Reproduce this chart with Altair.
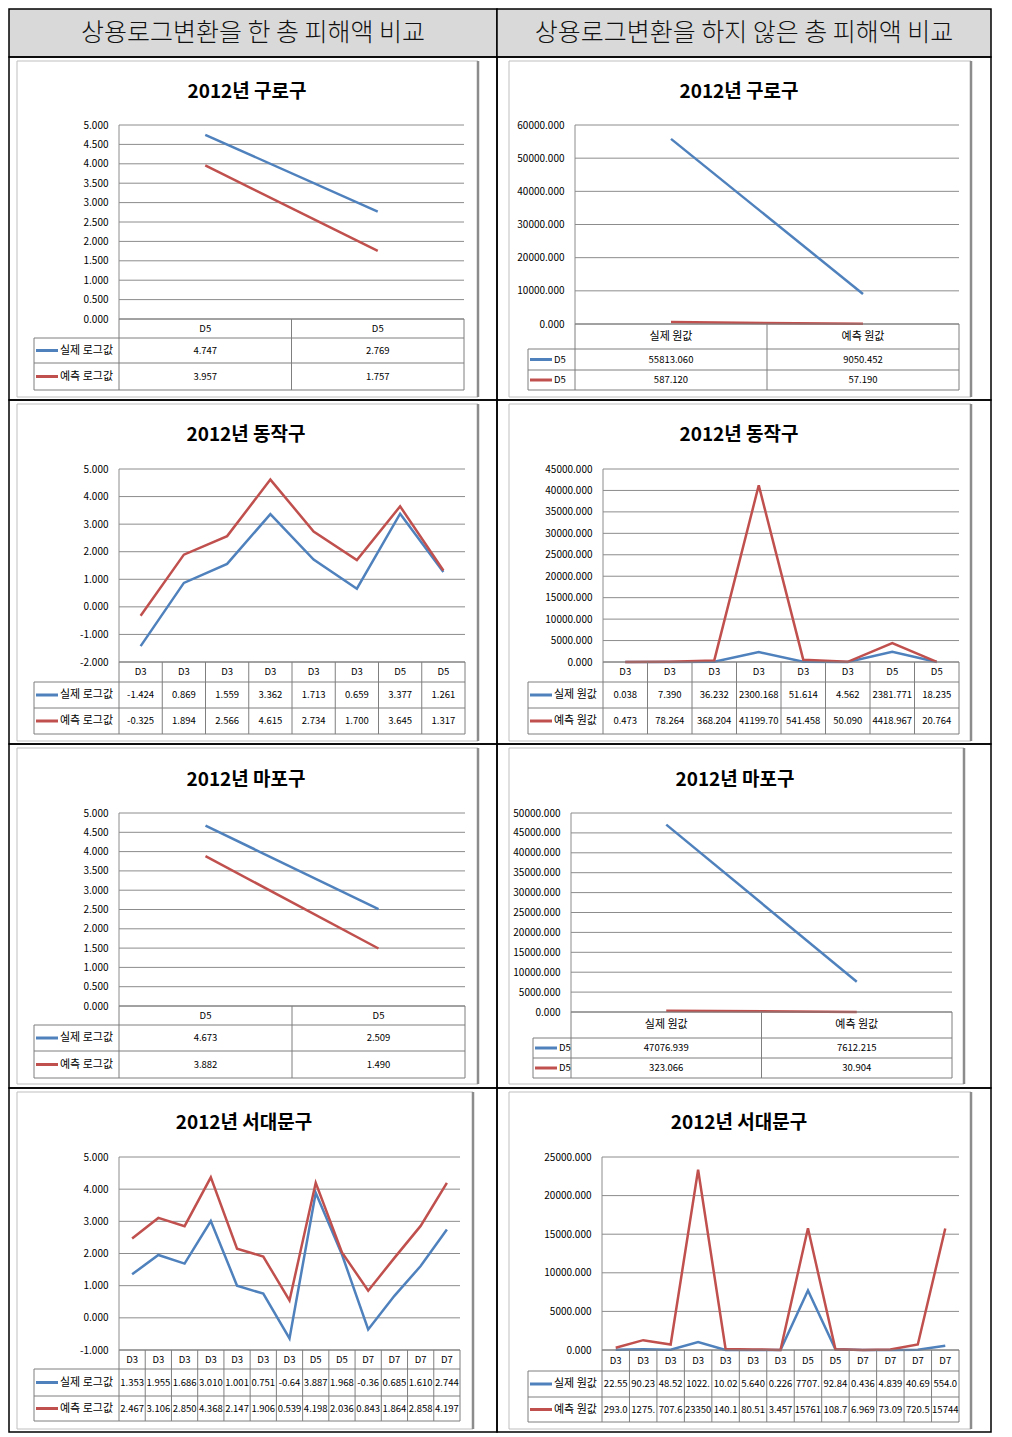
import altair as alt
import numpy as np
import pandas as pd

FONT = "Noto Sans CJK KR"
BLUE = "#4F81BD"
RED = "#C0504D"
GRID = "#8C8C8C"
TBL = "#7F7F7F"

# ---------------- data ----------------
header_texts = ["상용로그변환을 한 총 피해액 비교", "상용로그변환을 하지 않은 총 피해액 비교"]
titles = ["2012년 구로구", "2012년 동작구", "2012년 마포구", "2012년 서대문구"]

log_legend = ["실제 로그값", "예측 로그값"]
raw_legend = ["실제 원값", "예측 원값"]

guro_log_cats = ["D5", "D5"]
guro_log_actual = [4.747, 2.769]
guro_log_pred = [3.957, 1.757]
guro_raw_cats = ["실제 원값", "예측 원값"]
guro_raw_series = ["D5", "D5"]
guro_raw_row1 = [55813.060, 9050.452]
guro_raw_row2 = [587.120, 57.190]

dongjak_cats = ["D3", "D3", "D3", "D3", "D3", "D3", "D5", "D5"]
dongjak_log_actual = [-1.424, 0.869, 1.559, 3.362, 1.713, 0.659, 3.377, 1.261]
dongjak_log_pred = [-0.325, 1.894, 2.566, 4.615, 2.734, 1.700, 3.645, 1.317]
dongjak_raw_actual = [0.038, 7.390, 36.232, 2300.168, 51.614, 4.562, 2381.771, 18.235]
dongjak_raw_pred = [0.473, 78.264, 368.204, 41199.703, 541.458, 50.090, 4418.967, 20.764]

mapo_log_cats = ["D5", "D5"]
mapo_log_actual = [4.673, 2.509]
mapo_log_pred = [3.882, 1.490]
mapo_raw_cats = ["실제 원값", "예측 원값"]
mapo_raw_series = ["D5", "D5"]
mapo_raw_row1 = [47076.939, 7612.215]
mapo_raw_row2 = [323.066, 30.904]

sdm_cats = ["D3", "D3", "D3", "D3", "D3", "D3", "D3", "D5", "D5", "D7", "D7", "D7", "D7"]
sdm_log_actual = [1.353, 1.955, 1.686, 3.010, 1.001, 0.751, -0.640, 3.887, 1.968, -0.360, 0.685, 1.610, 2.744]
sdm_log_pred = [2.467, 3.106, 2.850, 4.368, 2.147, 1.906, 0.539, 4.198, 2.036, 0.843, 1.864, 2.858, 4.197]
sdm_raw_actual = [22.553, 90.231, 48.525, 1022.330, 10.024, 5.640, 0.226, 7707.470, 92.842, 0.436, 4.839, 40.693, 554.048]
sdm_raw_pred = [293.034, 1275.420, 707.624, 23350.100, 140.148, 80.513, 3.457, 15761.200, 108.710, 6.969, 73.091, 720.541, 15744.400]


def fmt(v, trunc):
    s = f"{v:.3f}"
    return s[:trunc] if trunc else s


CELL_VIEW = alt.ViewBackground(stroke="black", strokeWidth=1.5)


def panel(W, H, ox, oy, frame, title_xy, plot, rows, LL, title, cats, vals1, vals2,
          leg_labels, ydom, ystep, trunc=None, cat_size=9.5, leg_size=11):
    FL, FT, FR, FB = frame[0] - ox, frame[1] - oy, frame[2] - ox, frame[3] - oy
    PL, PR, PT, PB = plot[0] - ox, plot[1] - ox, plot[2] - oy, plot[3] - oy
    R = [r - oy for r in rows]
    LLr = LL - ox
    n = len(cats)

    fx = alt.Scale(domain=[0, 1], range=[FL, FR])
    fy = alt.Scale(domain=[0, 1], range=[FT, FB])
    lx = alt.Scale(domain=[0, n], range=[PL, PR])
    ly = alt.Scale(domain=list(ydom), range=[PB, PT], zero=False, nice=False)
    ty = alt.Scale(domain=[0, 1, 2, 3], range=R, zero=False, nice=False)
    lw = PL - LLr
    gx = alt.Scale(domain=[0, lw], range=[LLr, PL])

    # chart frame
    fdf = pd.DataFrame({"a": [0], "b": [1]})
    frame_rect = alt.Chart(fdf).mark_rect(fillOpacity=0, stroke="#BFBFBF", strokeWidth=1).encode(
        x=alt.X("a:Q", scale=fx, axis=None), x2="b:Q",
        y=alt.Y("a:Q", scale=fy, axis=None), y2="b:Q")
    shadow = alt.Chart(fdf).mark_rule(color="#8C8C8C", strokeWidth=2.5).encode(
        x=alt.X("b:Q", scale=fx, axis=None),
        y=alt.Y("a:Q", scale=fy, axis=None), y2="b:Q")

    # title
    tdf = pd.DataFrame({"t": [title],
                        "x": [(title_xy[0] - ox - FL) / (FR - FL)],
                        "y": [(title_xy[1] - oy - FT) / (FB - FT)]})
    ttl = alt.Chart(tdf).mark_text(font=FONT, fontSize=19, fontWeight="bold",
                                   baseline="middle", align="center", color="black").encode(
        x=alt.X("x:Q", scale=fx, axis=None), y=alt.Y("y:Q", scale=fy, axis=None), text="t:N")

    # gridlines + y axis line
    ticks = [float(t) for t in np.round(np.arange(ydom[0], ydom[1] + ystep / 2, ystep), 6)]
    gdf = pd.DataFrame({"y": ticks, "x0": 0, "x1": n})
    grid = alt.Chart(gdf).mark_rule(color=GRID, strokeWidth=1).encode(
        x=alt.X("x0:Q", scale=lx, axis=None), x2="x1:Q",
        y=alt.Y("y:Q", scale=ly, axis=None))
    ydl = alt.Chart(pd.DataFrame({"x": [0], "y0": [ydom[0]], "y1": [ydom[1]]})).mark_rule(
        color=GRID, strokeWidth=1).encode(
        x=alt.X("x:Q", scale=lx, axis=None), y=alt.Y("y0:Q", scale=ly, axis=None), y2="y1:Q")

    # lines
    ldf = pd.DataFrame({"x": [i + 0.5 for i in range(n)] * 2,
                        "v": list(vals1) + list(vals2),
                        "s": ["a"] * n + ["b"] * n})
    lines = alt.Chart(ldf).mark_line(strokeWidth=2.5).encode(
        x=alt.X("x:Q", scale=lx, axis=None),
        y=alt.Y("v:Q", scale=ly, axis=alt.Axis(
            values=ticks, orient="left", offset=-PL, grid=False, domain=False, ticks=False,
            labelExpr="replace(format(datum.value, '.3f'), '\u2212', '-')",
            labelOverlap=False, zindex=2,
            labelFont=FONT, labelFontSize=10, labelColor="black", labelPadding=11, title=None)),
        color=alt.Color("s:N", scale=alt.Scale(domain=["a", "b"], range=[BLUE, RED]), legend=None))

    # data table
    vr = pd.DataFrame({"x": list(range(n + 1)), "y0": 0, "y1": 3})
    vrules = alt.Chart(vr).mark_rule(color=TBL, strokeWidth=1).encode(
        x=alt.X("x:Q", scale=lx, axis=None), y=alt.Y("y0:Q", scale=ty, axis=None), y2="y1:Q")
    hr = pd.DataFrame({"y": [0, 1, 2, 3], "x0": 0, "x1": n})
    hrules = alt.Chart(hr).mark_rule(color=TBL, strokeWidth=1).encode(
        x=alt.X("x0:Q", scale=lx, axis=None), x2="x1:Q", y=alt.Y("y:Q", scale=ty, axis=None))
    cells = []
    for i in range(n):
        cells.append({"x": i + 0.5, "y": 0.5, "t": cats[i], "fs": cat_size})
        cells.append({"x": i + 0.5, "y": 1.5, "t": fmt(vals1[i], trunc), "fs": 9.5})
        cells.append({"x": i + 0.5, "y": 2.5, "t": fmt(vals2[i], trunc), "fs": 9.5})
    cdf = pd.DataFrame(cells)
    ctext = alt.Chart(cdf).mark_text(font=FONT, baseline="middle", align="center", color="black").encode(
        x=alt.X("x:Q", scale=lx, axis=None), y=alt.Y("y:Q", scale=ty, axis=None),
        text="t:N", size=alt.Size("fs:Q", scale=None))

    # legend column
    lgv = alt.Chart(pd.DataFrame({"x": [0], "y0": [1], "y1": [3]})).mark_rule(color=TBL).encode(
        x=alt.X("x:Q", scale=gx, axis=None), y=alt.Y("y0:Q", scale=ty, axis=None), y2="y1:Q")
    lgh = alt.Chart(pd.DataFrame({"y": [1, 2, 3], "x0": 0, "x1": lw})).mark_rule(color=TBL).encode(
        x=alt.X("x0:Q", scale=gx, axis=None), x2="x1:Q", y=alt.Y("y:Q", scale=ty, axis=None))
    kdf = pd.DataFrame({"s": ["a", "b"], "y": [1.5, 2.5], "x0": 2, "x1": 24, "xt": 26,
                        "t": leg_labels})
    keys = alt.Chart(kdf).mark_rule(strokeWidth=3).encode(
        x=alt.X("x0:Q", scale=gx, axis=None), x2="x1:Q", y=alt.Y("y:Q", scale=ty, axis=None),
        color=alt.Color("s:N", scale=alt.Scale(domain=["a", "b"], range=[BLUE, RED]), legend=None))
    klab = alt.Chart(kdf).mark_text(font=FONT, fontSize=leg_size, align="left", baseline="middle",
                                    color="black").encode(
        x=alt.X("xt:Q", scale=gx, axis=None), y=alt.Y("y:Q", scale=ty, axis=None), text="t:N")

    return alt.layer(frame_rect, shadow, ttl, grid, ydl, lines, vrules, hrules, ctext,
                     lgv, lgh, keys, klab).resolve_scale(
        x="independent", y="independent").properties(width=W, height=H, view=CELL_VIEW)


LW, RW = 488, 494
LX, RX = 8, 496

p_l1 = panel(LW, 343, LX, 56, (16, 60, 477, 396), (246, 91), (118, 463, 124, 318),
             (318, 337, 362, 389), 33, titles[0], guro_log_cats, guro_log_actual, guro_log_pred,
             log_legend, (0, 5), 0.5)
p_r1 = panel(RW, 343, RX, 56, (508, 60, 970, 396), (738, 91), (574, 958, 124, 323),
             (323, 348, 369, 389), 527, titles[0], guro_raw_cats, guro_raw_row1, guro_raw_row2,
             guro_raw_series, (0, 60000), 10000, cat_size=11, leg_size=9.5)
p_l2 = panel(LW, 344, LX, 399, (16, 403, 477, 740), (245, 434), (118, 464, 468, 661),
             (661, 681, 707, 733), 33, titles[1], dongjak_cats, dongjak_log_actual, dongjak_log_pred,
             log_legend, (-2, 5), 1)
p_r2 = panel(RW, 344, RX, 399, (508, 403, 970, 740), (738, 434), (602, 958, 468, 661),
             (661, 681, 707, 733), 527, titles[1], dongjak_cats, dongjak_raw_actual, dongjak_raw_pred,
             raw_legend, (0, 45000), 5000, trunc=8)
p_l3 = panel(LW, 344, LX, 743, (16, 747, 477, 1083), (245, 779), (118, 464, 812, 1005),
             (1005, 1024, 1050, 1077), 33, titles[2], mapo_log_cats, mapo_log_actual, mapo_log_pred,
             log_legend, (0, 5), 0.5)
p_r3 = panel(RW, 344, RX, 743, (508, 747, 963, 1083), (734, 779), (570, 951, 812, 1011),
             (1011, 1037, 1057, 1077), 532, titles[2], mapo_raw_cats, mapo_raw_row1, mapo_raw_row2,
             mapo_raw_series, (0, 50000), 5000, cat_size=11, leg_size=9.5)
p_l4 = panel(LW, 344, LX, 1087, (16, 1091, 472, 1428), (243, 1122), (118, 459, 1156, 1349),
             (1349, 1368, 1395, 1420), 33, titles[3], sdm_cats, sdm_log_actual, sdm_log_pred,
             log_legend, (-1, 5), 1, trunc=5)
p_r4 = panel(RW, 344, RX, 1087, (508, 1091, 970, 1428), (738, 1122), (601, 958, 1156, 1349),
             (1349, 1370, 1396, 1421), 527, titles[3], sdm_cats, sdm_raw_actual, sdm_raw_pred,
             raw_legend, (0, 25000), 5000, trunc=5)


def header(text, W):
    return alt.Chart(pd.DataFrame({"h": [text]})).mark_text(
        font=FONT, fontSize=25, fontWeight=300, color="#111111", baseline="middle").encode(
        x=alt.X("h:N", axis=None), y=alt.Y("h:N", axis=None), text="h:N").properties(
        width=W, height=48,
        view=alt.ViewBackground(fill="#D9D9D9", stroke="black", strokeWidth=1.5))


chart = alt.concat(
    header(header_texts[0], LW), header(header_texts[1], RW),
    p_l1, p_r1, p_l2, p_r2, p_l3, p_r3, p_l4, p_r4,
    columns=2, spacing=0, bounds="flush", align="each",
).properties(padding=0).configure_view(stroke="black", strokeWidth=1.5).configure(font=FONT)

chart.save("out.html", embed_options={"renderer": "svg", "actions": False})
